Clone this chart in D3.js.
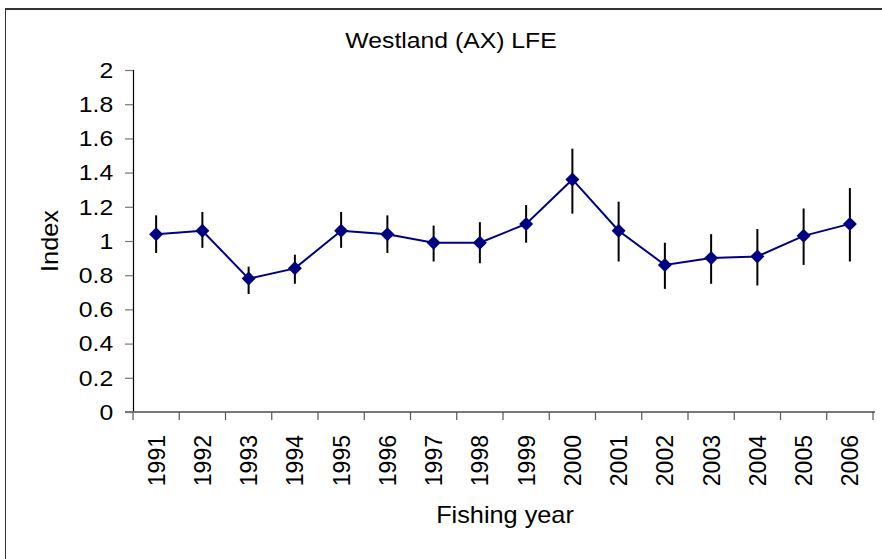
<!DOCTYPE html>
<html>
<head>
<meta charset="utf-8">
<script src="https://cdn.jsdelivr.net/npm/d3@7"></script>
<style>
  body { margin: 0; background: #fff; }
  text { font-family: "Liberation Sans", Arial, sans-serif; fill: #000; }
</style>
</head>
<body>
<div class="canvas"></div>
<script>
const years = ['1991','1992','1993','1994','1995','1996','1997','1998','1999','2000','2001','2002','2003','2004','2005','2006'];
const index = [1.04, 1.06, 0.78, 0.84, 1.06, 1.04, 0.99, 0.99, 1.10, 1.36, 1.06, 0.86, 0.90, 0.91, 1.03, 1.10];
const lower = [0.93, 0.96, 0.69, 0.75, 0.96, 0.93, 0.88, 0.87, 0.99, 1.16, 0.88, 0.72, 0.75, 0.74, 0.86, 0.88];
const upper = [1.15, 1.17, 0.85, 0.92, 1.17, 1.15, 1.09, 1.11, 1.21, 1.54, 1.23, 0.99, 1.04, 1.07, 1.19, 1.31];
const yTicks = [0, 0.2, 0.4, 0.6, 0.8, 1, 1.2, 1.4, 1.6, 1.8, 2];

const dims = {width: 882, height: 559};
const plot = {left: 133, right: 873, top: 70, bottom: 412};
// text in the original is a little wider than it is tall
const stretch = 1.1;

const svg = d3.select('.canvas')
    .append('svg').attr('width', dims.width).attr('height', dims.height);

// chart frame (right and bottom edges fall outside the picture)
svg.append('rect')
    .attr('x', 5.5).attr('y', 9)
    .attr('width', 900).attr('height', 600)
    .attr('fill', 'none').attr('stroke', '#333').attr('stroke-width', 1);
svg.append('line')
    .attr('x1', 5).attr('x2', dims.width).attr('y1', 9).attr('y2', 9)
    .attr('stroke', '#333').attr('stroke-width', 2);

const x = d3.scaleBand().domain(years).range([plot.left, plot.right]);
const y = d3.scaleLinear().domain([0, 2]).range([plot.bottom, plot.top]);

// y axis
const yAxis = svg.append('g')
    .attr('transform', `translate(${plot.left},0)`)
    .call(d3.axisLeft(y).tickValues(yTicks).tickSize(8).tickPadding(10).tickFormat(d3.format('')));
yAxis.select('.domain').attr('stroke', '#000').attr('stroke-width', 1.2)
    .attr('d', `M0.5,${plot.top}V${plot.bottom}`);
yAxis.selectAll('.tick line').attr('stroke', '#777').attr('stroke-width', 1.2);
yAxis.selectAll('.tick text')
    .style('font-size', '22.5px')
    .style('font-family', '"Liberation Sans", Arial, sans-serif')
    .attr('transform', `scale(${stretch},1)`);

// x axis: ticks at band boundaries
const xAxis = svg.append('g').attr('transform', `translate(0,${plot.bottom})`);
xAxis.append('line')
    .attr('x1', plot.left - 8).attr('x2', plot.right + 2)
    .attr('stroke', '#777').attr('stroke-width', 2);
xAxis.selectAll('line.tk')
    .data(years.concat(['end']))
    .join('line').attr('class', 'tk')
    .attr('x1', d => d === 'end' ? plot.right : x(d))
    .attr('x2', d => d === 'end' ? plot.right : x(d))
    .attr('y1', 0).attr('y2', 8)
    .attr('stroke', '#555').attr('stroke-width', 1.2);
xAxis.selectAll('text')
    .data(years)
    .join('text')
    .attr('transform', d => `translate(${x(d) + x.bandwidth()/2 + 8.5},23) rotate(-90)`)
    .attr('text-anchor', 'end')
    .style('font-size', '23px')
    .text(d => d);

// error bars
svg.append('g').selectAll('line')
    .data(years)
    .join('line')
    .attr('x1', d => x(d) + x.bandwidth()/2)
    .attr('x2', d => x(d) + x.bandwidth()/2)
    .attr('y1', (d, i) => y(lower[i]))
    .attr('y2', (d, i) => y(upper[i]))
    .attr('stroke', '#000').attr('stroke-width', 2);

// series line
const line = d3.line()
    .x((d, i) => x(years[i]) + x.bandwidth()/2)
    .y(d => y(d));
svg.append('path')
    .datum(index)
    .attr('d', line)
    .attr('fill', 'none').attr('stroke', '#000080').attr('stroke-width', 2);

// diamond markers
const marker = d3.symbol().type(d3.symbolSquare).size(98);
svg.append('g').selectAll('path')
    .data(index)
    .join('path')
    .attr('d', marker)
    .attr('transform', (d, i) => `translate(${x(years[i]) + x.bandwidth()/2},${y(d)}) rotate(45)`)
    .attr('fill', '#000080');

// titles
svg.append('text')
    .attr('transform', `translate(451,48) scale(${stretch},1)`)
    .attr('text-anchor', 'middle')
    .style('font-size', '22.5px')
    .text('Westland (AX) LFE');

svg.append('text')
    .attr('transform', `translate(58,${y(1)}) rotate(-90) scale(${stretch},1)`)
    .attr('text-anchor', 'middle')
    .style('font-size', '23px')
    .text('Index');

svg.append('text')
    .attr('transform', `translate(505,523) scale(${stretch},1)`)
    .attr('text-anchor', 'middle')
    .style('font-size', '23px')
    .text('Fishing year');
</script>
</body>
</html>
